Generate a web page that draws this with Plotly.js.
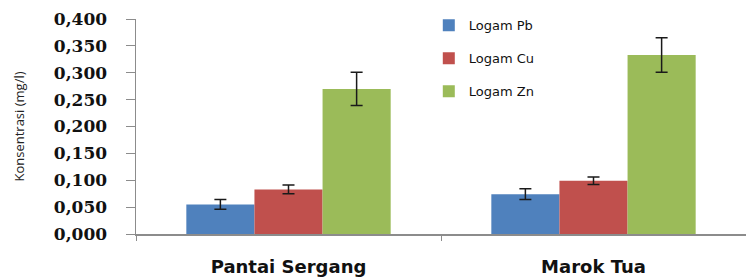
<!DOCTYPE html>
<html>
<head>
<meta charset="utf-8">
<script src="https://cdn.plot.ly/plotly-3.0.1.min.js"></script>
<style>html,body{margin:0;padding:0;background:#fff;}#chart{width:746px;height:278px;}</style>
</head>
<body>
<div id="chart"></div>
<script>
var categories = ["Pantai Sergang", "Marok Tua"];
var seriesNames = ["Logam Pb", "Logam Cu", "Logam Zn"];
var pbValues = [0.055, 0.074];
var pbErrors = [0.009, 0.010];
var cuValues = [0.083, 0.099];
var cuErrors = [0.008, 0.007];
var znValues = [0.270, 0.333];
var znErrors = [0.031, 0.032];
var yTickVals = [0, 0.05, 0.1, 0.15, 0.2, 0.25, 0.3, 0.35, 0.4];
var yTickText = ["0,000", "0,050", "0,100", "0,150", "0,200", "0,250", "0,300", "0,350", "0,400"];

var colors = ["#4F81BD", "#C0504D", "#9BBB59"];
var vals = [pbValues, cuValues, znValues];
var errs = [pbErrors, cuErrors, znErrors];

var traces = seriesNames.map(function (name, i) {
  return {
    type: "bar",
    name: name,
    x: categories,
    y: vals[i],
    legendgroup: "g" + i,
    marker: { color: colors[i], line: { width: 0 } },
    error_y: { type: "data", array: errs[i], visible: true, color: "#1a1a1a", thickness: 1.5, width: 6 }
  };
});

var layout = {
  width: 746,
  height: 278,
  margin: { l: 136, r: 0, t: 19, b: 44 },
  paper_bgcolor: "#ffffff",
  plot_bgcolor: "#ffffff",
  barmode: "group",
  bargap: 0.33,
  bargroupgap: 0,
  showlegend: true,
  legend: {
    x: 0.48, y: 1.04, xanchor: "left", yanchor: "top",
    bgcolor: "rgba(0,0,0,0)",
    font: { family: "DejaVu Sans", size: 13, color: "#111111" },
    tracegroupgap: 13,
    traceorder: "grouped"
  },
  xaxis: {
    type: "category",
    showline: true, linecolor: "#8c8c8c", linewidth: 1.5,
    ticks: "outside", tickson: "boundaries", ticklen: 5, tickcolor: "#8c8c8c",
    tickfont: { family: "DejaVu Sans", size: 18, weight: "bold", color: "#111111" },
    ticklabelstandoff: 16,
    showgrid: false, zeroline: false, fixedrange: true
  },
  yaxis: {
    range: [0, 0.4],
    tickvals: yTickVals, ticktext: yTickText,
    showline: true, linecolor: "#8c8c8c", linewidth: 1.5,
    ticks: "outside", ticklen: 9, tickcolor: "#8c8c8c",
    tickfont: { family: "DejaVu Serif", size: 17, weight: "bold", color: "#111111" },
    ticklabelstandoff: 15,
    showgrid: false, zeroline: false, fixedrange: true,
    title: { text: "Konsentrasi (mg/l)", font: { family: "Open Sans", size: 13, color: "#222222" }, standoff: 26 }
  }
};

Plotly.newPlot("chart", traces, layout, { displayModeBar: false, staticPlot: true });
</script>
</body>
</html>
